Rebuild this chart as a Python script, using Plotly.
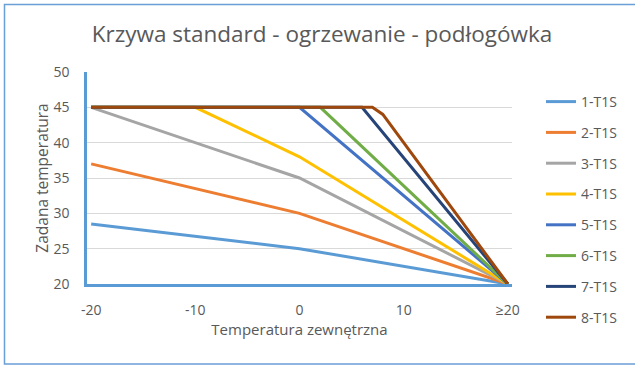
import plotly.graph_objects as go

# Heating curves: outdoor temperature -> target supply temperature
series_names = ["1-T1S", "2-T1S", "3-T1S", "4-T1S", "5-T1S", "6-T1S", "7-T1S", "8-T1S"]
outdoor_temps = [
    [-20, 0, 20],
    [-20, 0, 20],
    [-20, 0, 20],
    [-20, -10, 0, 20],
    [-20, 0, 20],
    [-20, 2, 20],
    [-20, 6, 20],
    [-20, 7, 8, 20],
]
target_temps = [
    [28.5, 25, 20],
    [37, 30, 20],
    [45, 35, 20],
    [45, 45, 38, 20],
    [45, 45, 20],
    [45, 45, 20],
    [45, 45, 20],
    [45, 45, 44, 20],
]
series_colors = ["#5B9BD5", "#ED7D31", "#A5A5A5", "#FFC000",
                 "#4472C4", "#70AD47", "#264478", "#9E480E"]

x_tick_vals = [-20, -10, 0, 10, 20]
x_tick_text = ["-20", "-10", "0", "10", "≥20"]
y_tick_vals = [20, 25, 30, 35, 40, 45, 50]

W, H = 635, 365
ML, MR, MT, MB = 87, 123, 72, 81
PW, PH = W - ML - MR, H - MT - MB

def px_x(px):
    return (px - ML) / PW

def px_y(py):
    return (H - MB - py) / PH

TEXT = "#595959"
FONT = "Open Sans"

fig = go.Figure()
for i, name in enumerate(series_names):
    fig.add_trace(go.Scatter(
        x=outdoor_temps[i], y=target_temps[i], name=name, mode="lines",
        legendgroup=name,
        line=dict(color=series_colors[i], width=3),
    ))

fig.update_layout(
    width=W, height=H,
    margin=dict(l=ML, r=MR, t=MT, b=MB),
    paper_bgcolor="white", plot_bgcolor="white",
    font=dict(family=FONT, color=TEXT, size=14),
    title=dict(
        text="Krzywa standard - ogrzewanie - podłogówka",
        font=dict(family=FONT, size=22.5, color=TEXT),
        x=322 / W, xref="container", xanchor="center",
        y=1 - 34 / H, yref="container", yanchor="middle",
    ),
    xaxis=dict(
        range=[-20.4, 20.4], tickmode="array",
        tickvals=x_tick_vals, ticktext=x_tick_text,
        showgrid=False, zeroline=False,
        showline=True, linecolor="#5B9BD5", linewidth=2.5,
        ticks="", ticklabelstandoff=11,
        tickfont=dict(size=14, color=TEXT),
        title=dict(text="Temperatura zewnętrzna", font=dict(size=15, color=TEXT), standoff=4),
    ),
    yaxis=dict(
        range=[20, 50], tickmode="array", tickvals=y_tick_vals,
        showgrid=True, gridcolor="#D9D9D9", gridwidth=1,
        zeroline=False,
        showline=True, linecolor="#5B9BD5", linewidth=2.5,
        ticks="", ticklabelstandoff=12,
        tickfont=dict(size=14, color=TEXT),
        title=dict(text="Zadana temperatura", font=dict(size=15.5, color=TEXT), standoff=2),
    ),
    legend=dict(
        x=px_x(541), y=px_y(86), xanchor="left", yanchor="top",
        font=dict(size=14, color=TEXT),
        tracegroupgap=9.6, bgcolor="rgba(0,0,0,0)",
        maxheight=300,
    ),
    showlegend=True,
    shapes=[dict(
        type="rect", xref="paper", yref="paper",
        x0=px_x(4.5), x1=px_x(645), y0=px_y(364), y1=px_y(4.5),
        line=dict(color="#6A9FD8", width=1.5), layer="below",
    )],
)

fig.write_html("out.html")
